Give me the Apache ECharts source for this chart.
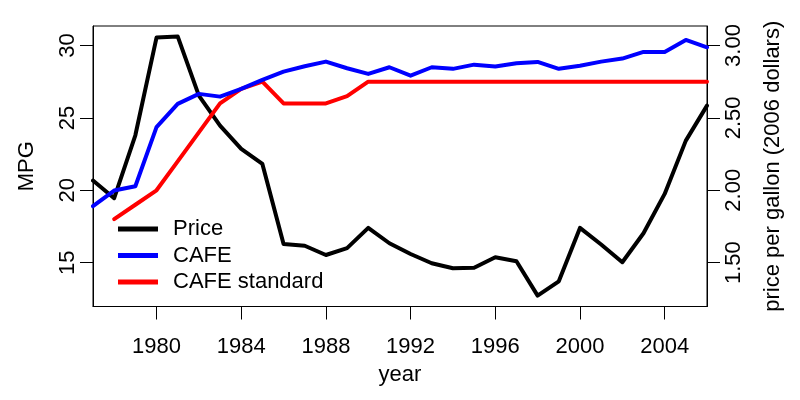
<!DOCTYPE html>
<html>
<head>
<meta charset="utf-8">
<script src="https://cdn.jsdelivr.net/npm/echarts@6/dist/echarts.min.js"></script>
<style>html,body{margin:0;padding:0;background:#fff}#c{width:800px;height:400px}</style>
</head>
<body>
<div id="c"></div>
<script>
var years = [1977,1978,1979,1980,1981,1982,1983,1984,1985,1986,1987,1988,1989,1990,1991,1992,1993,1994,1995,1996,1997,1998,1999,2000,2001,2002,2003,2004,2005,2006];
var price = [2.067,1.945,2.38,3.055,3.063,2.654,2.447,2.286,2.182,1.629,1.617,1.553,1.600,1.740,1.634,1.560,1.496,1.461,1.465,1.537,1.510,1.272,1.371,1.740,1.625,1.503,1.703,1.975,2.343,2.585];
var cafe = [18.9,19.98,20.28,24.36,25.97,26.66,26.47,27.0,27.63,28.2,28.57,28.89,28.43,28.04,28.5,27.92,28.5,28.39,28.68,28.55,28.78,28.87,28.39,28.6,28.89,29.1,29.56,29.56,30.39,29.88];
var stdYears = [1978,1979,1980,1981,1982,1983,1984,1985,1986,1987,1988,1989,1990,1991,1992,1993,1994,1995,1996,1997,1998,1999,2000,2001,2002,2003,2004,2005,2006];
var cafeStd = [18.0,19.0,20.0,22.0,24.0,26.0,27.0,27.5,26.0,26.0,26.0,26.5,27.5,27.5,27.5,27.5,27.5,27.5,27.5,27.5,27.5,27.5,27.5,27.5,27.5,27.5,27.5,27.5,27.5];
var xTicks = [1980,1984,1988,1992,1996,2000,2004];
var mpgTicks = [15,20,25,30];
var priceTicks = [1.5,2.0,2.5,3.0];

var FONT = 'Liberation Sans, Arial, Helvetica, sans-serif';
var FS = 22;
function pairs(xs, ys){ return xs.map(function(x,i){ return [x, ys[i]]; }); }
var mpgMin = 11.97, mpgMax = 31.35;

var chart = echarts.init(document.getElementById('c'), null, {renderer:'canvas'});
var lineStyle = function(c){ return {color:c, width:4, cap:'round', join:'round'}; };
chart.setOption({
  animation:false,
  backgroundColor:'#fff',
  textStyle:{fontFamily:FONT},
  grid:{left:93, right:93, top:26, bottom:93.5, show:true, borderColor:'#000', borderWidth:1, backgroundColor:'transparent'},
  legend:{
    data:['Price','CAFE','CAFE standard'],
    orient:'vertical', left:113, top:213,
    itemWidth:40, itemHeight:5, itemGap:4.5,
    icon:'rect',
    textStyle:{fontFamily:FONT, fontSize:FS, color:'#000', padding:[0,0,0,10], lineHeight:21}
  },
  xAxis:{
    type:'value', min:1977, max:2006,
    name:'year', nameLocation:'middle', nameGap:57,
    nameTextStyle:{fontFamily:FONT, fontSize:FS, color:'#000'},
    axisLine:{show:true, onZero:false, lineStyle:{color:'#000', width:1}},
    axisTick:{show:true, inside:false, length:13, lineStyle:{color:'#000', width:1}, customValues:xTicks},
    axisLabel:{fontFamily:FONT, fontSize:FS, color:'#000', margin:29, customValues:xTicks, formatter:function(v){return String(v);}},
    splitLine:{show:false}
  },
  yAxis:[{
    type:'value', min:mpgMin, max:mpgMax, position:'left',
    name:'MPG', nameLocation:'middle', nameGap:55,
    nameTextStyle:{fontFamily:FONT, fontSize:FS, color:'#000'},
    axisLine:{show:true, onZero:false, lineStyle:{color:'#000', width:1}},
    axisTick:{show:true, inside:false, length:13, lineStyle:{color:'#000', width:1}, customValues:mpgTicks},
    axisLabel:{fontFamily:FONT, fontSize:FS, color:'#000', margin:14, rotate:90, customValues:mpgTicks, formatter:function(v){return String(v);}},
    splitLine:{show:false}
  },{
    type:'value', min:mpgMin/10, max:mpgMax/10, position:'right',
    name:'price per gallon (2006 dollars)', nameLocation:'middle', nameGap:55, nameRotate:90,
    nameTextStyle:{fontFamily:FONT, fontSize:FS, color:'#000'},
    axisLine:{show:true, onZero:false, lineStyle:{color:'#000', width:1}},
    axisTick:{show:true, inside:false, length:13, lineStyle:{color:'#000', width:1}, customValues:priceTicks},
    axisLabel:{fontFamily:FONT, fontSize:FS, color:'#000', margin:16, rotate:90, customValues:priceTicks, formatter:function(v){return v.toFixed(2);}},
    splitLine:{show:false}
  }],
  series:[
    {name:'Price', type:'line', yAxisIndex:1, data:pairs(years, price), showSymbol:false, symbol:'none', lineStyle:lineStyle('#000000'), itemStyle:{color:'#000000'}, z:2},
    {name:'CAFE standard', type:'line', yAxisIndex:0, data:pairs(stdYears, cafeStd), showSymbol:false, symbol:'none', lineStyle:lineStyle('#ff0000'), itemStyle:{color:'#ff0000'}, z:3},
    {name:'CAFE', type:'line', yAxisIndex:0, data:pairs(years, cafe), showSymbol:false, symbol:'none', lineStyle:lineStyle('#0000ff'), itemStyle:{color:'#0000ff'}, z:4}
  ]
});
</script>
</body>
</html>
